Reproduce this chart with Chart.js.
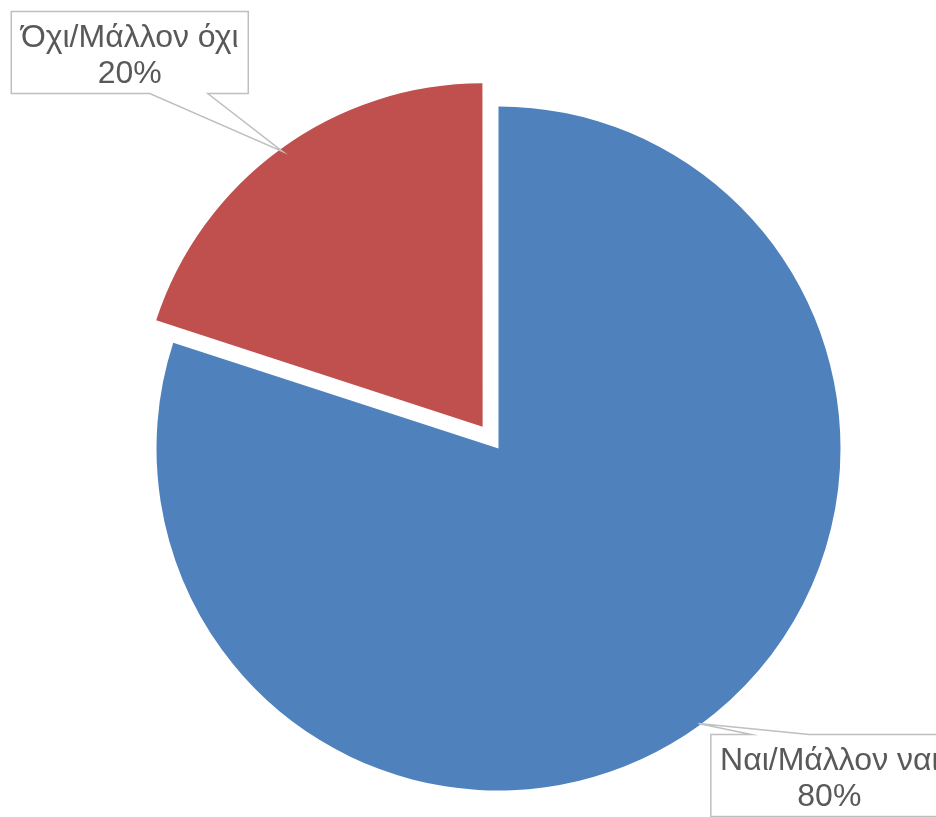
<!DOCTYPE html>
<html>
<head>
<meta charset="utf-8">
<script src="https://cdn.jsdelivr.net/npm/chart.js@4.4.1/dist/chart.umd.min.js"></script>
<style>
  html, body { margin: 0; padding: 0; background: #fff; overflow: hidden; }
  #wrap { position: relative; width: 936px; height: 817px; }
</style>
</head>
<body>
<div id="wrap"><canvas id="pie"></canvas></div>
<script>
'use strict';

var LABELS = ['Ναι/Μάλλον ναι', 'Όχι/Μάλλον όχι'];
var VALUES = [80, 20];
var COLORS = ['#4F81BD', '#C0504D'];
var EXPLODE = [0, 108]; // Chart.js arc offset (drawn shift = offset / 4)

// callout placement relative to the slice tip (box centre offset)
var CALLOUTS = [
  { dx: 131, dy: 52, side: 'top' },
  { dx: -153, dy: -99, side: 'bottom' }
];

var calloutPlugin = {
  id: 'callouts',
  afterDatasetsDraw: function (chart) {
    var ctx = chart.ctx;
    var meta = chart.getDatasetMeta(0);
    var ds = chart.data.datasets[0];
    var total = ds.data.reduce(function (a, b) { return a + b; }, 0);
    var boxW = 237, boxH = 82;

    meta.data.forEach(function (arc, i) {
      var p = arc.getProps(['x', 'y', 'startAngle', 'endAngle', 'outerRadius']);
      var mid = (p.startAngle + p.endAngle) / 2;
      var shift = ((ds.offset && ds.offset[i]) || 0) / 4;
      var tipX = p.x + Math.cos(mid) * (p.outerRadius + shift - 2);
      var tipY = p.y + Math.sin(mid) * (p.outerRadius + shift - 2);
      var c = CALLOUTS[i];
      var cx = tipX + c.dx, cy = tipY + c.dy;
      var l = cx - boxW / 2, r = cx + boxW / 2, t = cy - boxH / 2, b = cy + boxH / 2;

      ctx.save();
      ctx.beginPath();
      if (c.side === 'bottom') {
        ctx.moveTo(l, t); ctx.lineTo(r, t); ctx.lineTo(r, b);
        ctx.lineTo(cx + 78, b); ctx.lineTo(tipX, tipY); ctx.lineTo(cx + 20, b);
        ctx.lineTo(l, b);
      } else {
        ctx.moveTo(l, t); ctx.lineTo(cx - 78, t); ctx.lineTo(tipX, tipY);
        ctx.lineTo(cx - 20, t); ctx.lineTo(r, t); ctx.lineTo(r, b);
        ctx.lineTo(l, b);
      }
      ctx.closePath();
      ctx.fillStyle = '#ffffff';
      ctx.fill();
      ctx.strokeStyle = '#BFBFBF';
      ctx.lineWidth = 1.5;
      ctx.stroke();

      ctx.fillStyle = '#595959';
      ctx.font = '32px "Liberation Sans", Arial, sans-serif';
      ctx.textAlign = 'center';
      ctx.textBaseline = 'alphabetic';
      var pct = Math.round(ds.data[i] / total * 100) + '%';
      ctx.fillText(chart.data.labels[i], cx, t + 35);
      ctx.fillText(pct, cx, t + 71);
      ctx.restore();
    });
  }
};

new Chart(document.getElementById('pie'), {
  type: 'pie',
  data: {
    labels: LABELS,
    datasets: [{
      data: VALUES,
      backgroundColor: COLORS,
      borderWidth: 0,
      offset: EXPLODE
    }]
  },
  options: {
    responsive: true,
    maintainAspectRatio: false,
    animation: false,
    radius: 342,
    layout: { padding: { left: 61, right: 0, top: 80, bottom: 0 } },
    plugins: {
      legend: { display: false },
      tooltip: { enabled: false }
    }
  },
  plugins: [calloutPlugin]
});
</script>
</body>
</html>
